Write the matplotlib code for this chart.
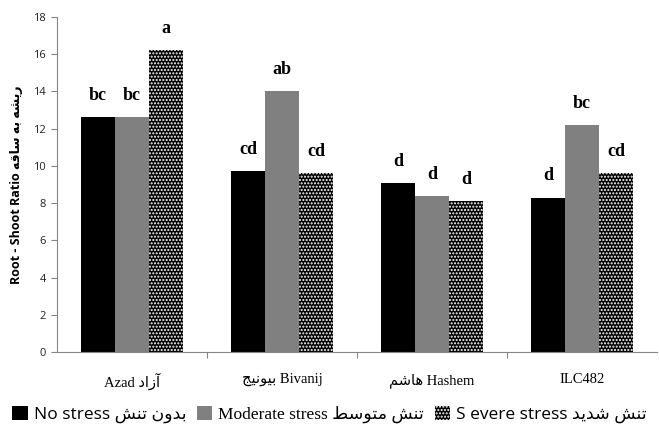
import numpy as np
import matplotlib
matplotlib.use("Agg")
import matplotlib.pyplot as plt
from matplotlib.patches import Patch

# Persian words are written in presentation forms, in visual (left-to-right) order
AZAD_FA = "\uFEA9\uFE8D\uFEAF\uFE81"
BIVANIJ_FA = "\uFE9E\uFEF4\uFEE7\uFEEE\uFEF4\uFE91"
HASHEM_FA = "\uFEE2\uFEB7\uFE8E\uFEEB"
RISHE = "\uFEEA\uFEB8\uFEF3\uFEAD"
BE = "\uFEEA\uFE91"
SAGHE = "\uFEEA\uFED7\uFE8E\uFEB3"
TANESH = "\uFEB6\uFEE8\uFE97"
BEDOON = "\uFEE5\uFEED\uFEAA\uFE91"
MOTAVASET = "\uFEC2\uFEB3\uFEEE\uFE98\uFEE3"
SHADID = "\uFEAA\uFEF3\uFEAA\uFEB7"

categories = ["Azad " + AZAD_FA, BIVANIJ_FA + " Bivanij", HASHEM_FA + " Hashem", "ILC482"]
no_stress = [12.6, 9.7, 9.1, 8.3]
moderate = [12.6, 14.0, 8.4, 12.2]
severe = [16.2, 9.6, 8.1, 9.6]
letters_no = ["bc", "cd", "d", "d"]
letters_mod = ["bc", "ab", "d", "bc"]
letters_sev = ["a", "cd", "d", "cd"]
series_labels = ["No stress " + TANESH + " " + BEDOON,
                 "Moderate stress " + MOTAVASET + " " + TANESH,
                 "S evere stress " + SHADID + " " + TANESH]
yticks = [0, 2, 4, 6, 8, 10, 12, 14, 16, 18]

serif = ["Liberation Serif", "DejaVu Sans"]
sans = ["Open Sans", "DejaVu Sans"]

fig = plt.figure(figsize=(6.59, 4.28), dpi=100)
ax = fig.add_axes([0.0865, 0.1776, 0.9105, 0.7827])

x = np.arange(len(categories))
w = 0.227
ax.bar(x - w, no_stress, w, color="black", linewidth=0)
ax.bar(x, moderate, w, color="#808080", linewidth=0)
ax.bar(x + w, severe, w, color="black", edgecolor="white", hatch=".....", linewidth=0)

for vals, labs, off in [(no_stress, letters_no, -w), (moderate, letters_mod, 0), (severe, letters_sev, w)]:
    for xi, v, t in zip(x, vals, labs):
        ax.text(xi + off, v + 0.7, t, ha="center", va="bottom",
                fontsize=13, fontweight="bold", family="Liberation Serif")

ax.set_xlim(-0.5, 3.5)
ax.set_ylim(0, 18)
ax.set_yticks(yticks)
ax.set_yticklabels([str(t) for t in yticks], family=sans, fontsize=8, color="#222222")
ax.tick_params(axis="y", length=4, color="#868686", width=0.8, pad=4)

ax.set_xticks(x)
ax.set_xticklabels(categories, family=serif, fontsize=10.5)
ax.tick_params(axis="x", which="major", length=0, pad=15)
ax.set_xticks([0.5, 1.5, 2.5], minor=True)
ax.tick_params(axis="x", which="minor", length=4, color="#868686", width=0.8)

for s in ["top", "right"]:
    ax.spines[s].set_visible(False)
for s in ["left", "bottom"]:
    ax.spines[s].set_color("#868686")
    ax.spines[s].set_linewidth(0.8)

ax.set_ylabel("Root - Shoot Ratio " + SAGHE + " " + BE + " " + RISHE,
              family=sans, fontsize=9, fontweight="bold", labelpad=7)

handles = [Patch(facecolor="black", linewidth=0),
           Patch(facecolor="#808080", linewidth=0),
           Patch(facecolor="black", edgecolor="white", hatch=".....", linewidth=0)]
leg = fig.legend(handles, series_labels, loc="lower center", ncol=3,
                 bbox_to_anchor=(0.5, -0.025), frameon=False,
                 handlelength=0.9, handleheight=0.9, handletextpad=0.35,
                 columnspacing=0.6, fontsize=12.5)
fonts = [sans, serif, sans]
for txt, f in zip(leg.get_texts(), fonts):
    txt.set_family(f)

fig.savefig("out.png", dpi=100)
